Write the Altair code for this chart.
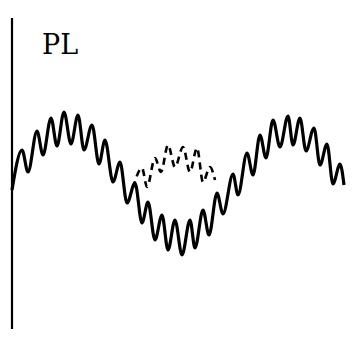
import altair as alt
import pandas as pd

# Solid trace: extrema (x from the axis, y upward)
solid_x = [0, 10, 16, 25, 31, 39, 45, 52, 59, 66, 72, 80, 87, 93, 101, 108, 115, 123, 130, 136,
           143, 150, 156, 163, 170, 178, 183, 191, 197, 205, 211, 221, 226, 235, 241, 248, 254,
           261, 268, 276, 281, 288, 294, 302, 308, 315, 321, 328, 332]
solid_y = [10, 50, 28, 69, 45, 82, 54, 88, 56, 85, 50, 75, 36, 60, 18, 38, -3, 17, -23, -2,
           -40, -15, -50, -20, -55, -20, -48, -10, -35, 7, -14, 26, 5, 47, 25, 65, 42,
           80, 53, 84, 55, 82, 49, 72, 35, 56, 16, 36, 15]

# Dashed trace in the middle
dash_x = [121, 130, 135, 143, 149, 156, 163, 171, 178, 185, 191, 198, 203]
dash_y = [12, 32, 13, 42, 28, 55, 33, 53, 28, 52, 18, 33, 20]

axis_x = [0]
axis_top = [182]
axis_bottom = [-129]

label_text = ["PL"]
label_x = [30]
label_y = [146]

xs = alt.Scale(domain=[-4, 336], nice=False, zero=False)
ys = alt.Scale(domain=[-129, 192], nice=False, zero=False)

solid_df = pd.DataFrame({"x": solid_x, "y": solid_y})
dash_df = pd.DataFrame({"x": dash_x, "y": dash_y})
axis_df = pd.DataFrame({"x": axis_x, "y": axis_top, "y2": axis_bottom})
label_df = pd.DataFrame({"x": label_x, "y": label_y, "t": label_text})

solid = alt.Chart(solid_df).mark_line(
    color="black", strokeWidth=3.2, interpolate="monotone"
).encode(
    x=alt.X("x:Q", scale=xs, axis=None),
    y=alt.Y("y:Q", scale=ys, axis=None),
    order="x:Q",
)

dashed = alt.Chart(dash_df).mark_line(
    color="black", strokeWidth=2.6, interpolate="monotone", strokeDash=[7, 5]
).encode(
    x=alt.X("x:Q", scale=xs, axis=None),
    y=alt.Y("y:Q", scale=ys, axis=None),
    order="x:Q",
)

axis_line = alt.Chart(axis_df).mark_rule(color="black", strokeWidth=2.2).encode(
    x=alt.X("x:Q", scale=xs, axis=None),
    y=alt.Y("y:Q", scale=ys, axis=None),
    y2="y2:Q",
)

label = alt.Chart(label_df).mark_text(
    font="DejaVu Serif", fontSize=27, color="black", align="left", baseline="alphabetic"
).encode(
    x=alt.X("x:Q", scale=xs, axis=None),
    y=alt.Y("y:Q", scale=ys, axis=None),
    text="t:N",
)

chart = alt.layer(axis_line, solid, dashed, label).properties(
    width=340, height=321, padding=0,
    autosize=alt.AutoSizeParams(type="none"),
    background="white",
).configure_view(stroke=None)

chart.save("out.html", embed_options={"renderer": "svg", "actions": False})
